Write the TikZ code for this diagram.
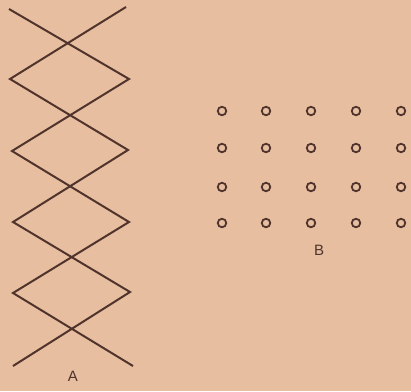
\documentclass[tikz,border=0pt]{standalone}
\usepackage{fontspec}
\setmainfont{Liberation Sans}
\definecolor{paper}{RGB}{231,190,160}
\definecolor{ink}{RGB}{80,52,44}
\begin{document}
\begin{tikzpicture}[x=1pt,y=-1pt,
  zig/.style={draw=ink,line width=2pt,line join=miter},
  hole/.style={circle,draw=ink,line width=1.8pt,minimum size=8.5pt,inner sep=0pt},
  lbl/.style={text=ink,font=\fontsize{15}{15}\selectfont,inner sep=0pt}]
\fill[paper] (0,0) rectangle (411,391);
\useasboundingbox (0,0) rectangle (411,391);
% zigzag lattice A
\coordinate (t1) at (9,9);
\coordinate (t2) at (126,7);
\coordinate (r1) at (129,79);
\coordinate (l1) at (10,79);
\coordinate (l2) at (12,151);
\coordinate (r2) at (128,150);
\coordinate (r3) at (129,222);
\coordinate (l3) at (13,222);
\coordinate (l4) at (13,293);
\coordinate (r4) at (130,292);
\coordinate (b1) at (133,366);
\coordinate (b2) at (13,366);
\draw[zig] (t1) -- (r1) -- (l2) -- (r3) -- (l4) -- (b1);
\draw[zig] (t2) -- (l1) -- (r2) -- (l3) -- (r4) -- (b2);
\node[lbl] (A) at (73,376) {A};
% grid of holes B
\foreach \c [count=\i] in {222,266,311,356,401}{
  \foreach \r [count=\j] in {111,148,187,223}{
    \node[hole] (h\i\j) at (\c,\r) {};
  }
}
\node[lbl] (B) at (319,250) {B};
\end{tikzpicture}
\end{document}
